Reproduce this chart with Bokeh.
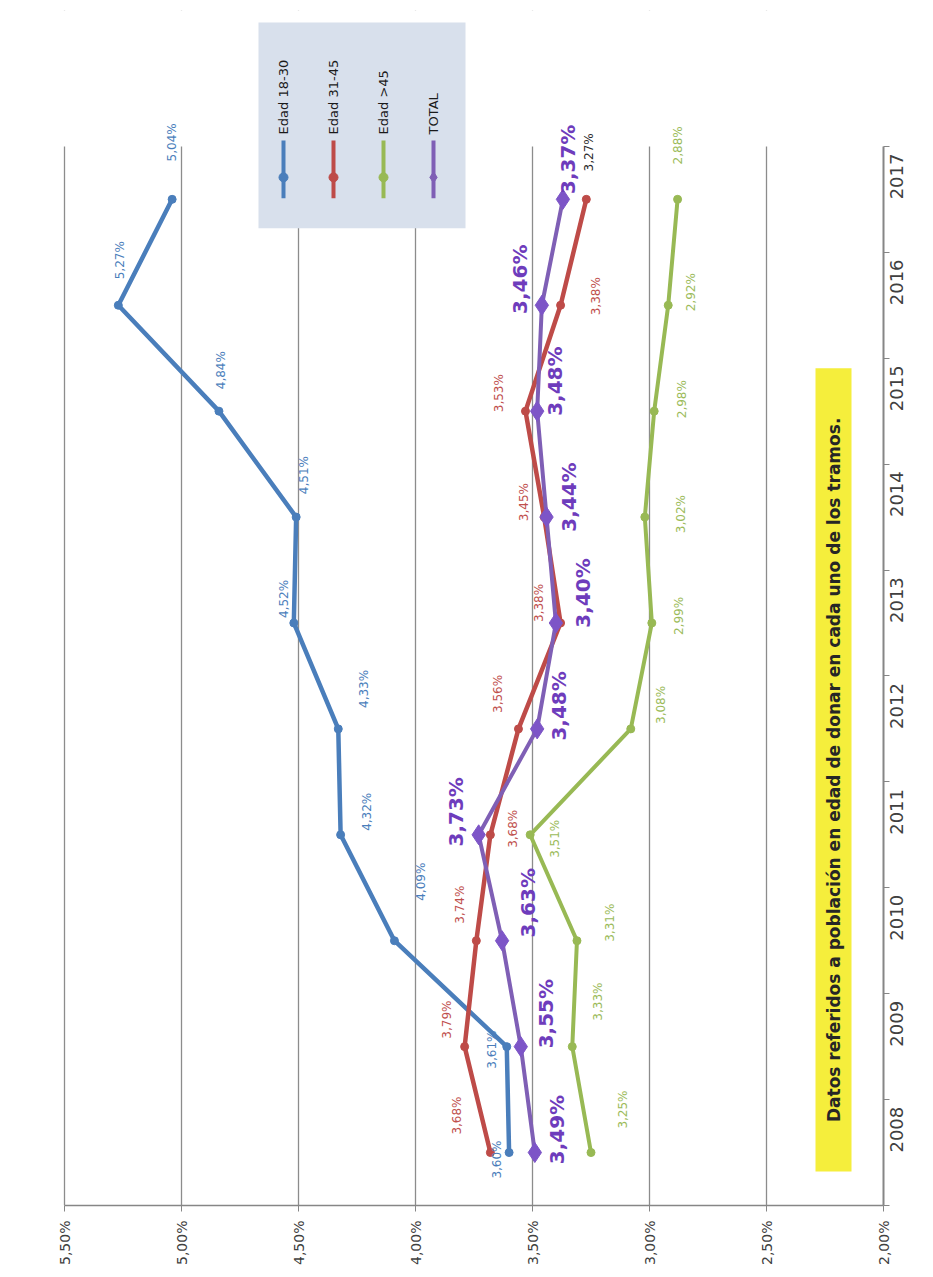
import math
from bokeh.plotting import figure
from bokeh.models import (Range1d, FixedTicker, LinearAxis, CustomJSTickFormatter,
                          ColumnDataSource, BoxAnnotation, Grid)
from bokeh.core.properties import value
from bokeh.embed import file_html
from bokeh.resources import INLINE

# ---------------- data ----------------
years = [2008, 2009, 2010, 2011, 2012, 2013, 2014, 2015, 2016, 2017]
edad_18_30 = [3.60, 3.61, 4.09, 4.32, 4.33, 4.52, 4.51, 4.84, 5.27, 5.04]
edad_31_45 = [3.68, 3.79, 3.74, 3.68, 3.56, 3.38, 3.45, 3.53, 3.38, 3.27]
edad_45 = [3.25, 3.33, 3.31, 3.51, 3.08, 2.99, 3.02, 2.98, 2.92, 2.88]
total = [3.49, 3.55, 3.63, 3.73, 3.48, 3.40, 3.44, 3.48, 3.46, 3.37]
series_names = ["Edad 18-30", "Edad 31-45", "Edad >45", "TOTAL"]
percent_ticks = [2.0, 2.5, 3.0, 3.5, 4.0, 4.5, 5.0, 5.5]
note_text = "Datos referidos a población en edad de donar en cada uno de los tramos."

# ---------------- styles ----------------
FONT = value("DejaVu Sans")
BLUE, RED, GREEN = "#4A7EBB", "#BE4B48", "#98B954"
PURPLE_LINE, PURPLE_MARK, PURPLE_TXT = "#7F5FB5", "#7D55C7", "#6E3CBC"

# label offsets in screen pixels (dx right, dy down)
blue_off = ([-12, -15, 27, 26, 26, -10, 8, 2, 2, 0], [7, 3, -59, -23, -40, -24, -42, -41, -45, -57])
red_off = ([-33, -18, -16, 23, -20, -22, -20, -26, 35, 3], [-37, -27, -36, -6, -35, -20, -15, -18, -9, -47])
green_off = ([32, 26, 33, 25, 30, 27, 36, 28, 23, 0], [-43, -45, -18, 4, -24, -7, -3, -12, -13, -54])
total_off = ([22, 25, 26, -23, 22, 27, 22, 18, -22, 5], [-23, -33, -38, -23, -23, -30, -20, -30, -26, -40])


# pixel -> data helpers for layout-only items (legend, note, cover)
def xd(px):
    return 5.5 - (px - 64) / 234.0


def yd(py):
    return 2008 + (1153 - py) / 106.0


def fmt(v):
    return f"{v:.2f}".replace(".", ",") + "%"


p = figure(width=925, height=1269, output_backend="svg", toolbar_location=None,
           title=None, x_axis_location=None, y_axis_location=None,
           x_range=Range1d(xd(12), 2.0), y_range=Range1d(2007.5, yd(10)),
           min_border_left=12, min_border_top=10, min_border_right=42, min_border_bottom=64)
p.outline_line_color = None
p.background_fill_color = "white"
p.border_fill_color = "white"
p.center = [r for r in p.center if not isinstance(r, Grid)]

# axes
xax = LinearAxis(ticker=FixedTicker(ticks=percent_ticks),
                 formatter=CustomJSTickFormatter(code="return tick.toFixed(2).replace('.', ',') + '%';"),
                 bounds=(2.0, 5.5))
xax.major_label_orientation = math.pi / 2
xax.major_label_text_font = "DejaVu Sans"
xax.major_label_text_font_size = "14px"
xax.major_label_text_color = "#404040"
xax.axis_line_color = "#868686"
xax.axis_line_width = 1.5
xax.major_tick_line_color = "#868686"
xax.major_tick_out = 6
xax.major_tick_in = 0
xax.minor_tick_line_color = None
xax.major_label_standoff = 9
p.add_layout(xax, "below")

yax = LinearAxis(ticker=FixedTicker(ticks=years, minor_ticks=[y - 0.5 for y in years] + [years[-1] + 0.5]),
                 formatter=CustomJSTickFormatter(code="return tick.toFixed(0);"),
                 bounds=(2007.5, 2017.5))
yax.major_label_orientation = math.pi / 2
yax.major_label_text_font = "DejaVu Sans"
yax.major_label_text_font_size = "18px"
yax.major_label_text_color = "#404040"
yax.axis_line_color = "#868686"
yax.axis_line_width = 2
yax.major_tick_line_color = None
yax.minor_tick_line_color = "#868686"
yax.minor_tick_out = 6
yax.minor_tick_in = 0
yax.major_label_standoff = 7
p.add_layout(yax, "right")

grid = Grid(dimension=0, ticker=FixedTicker(ticks=percent_ticks),
            grid_line_color="#8C8C8C", grid_line_width=1.3)
p.add_layout(grid)

# cover the grid above the plot area, legend box, note box
p.add_layout(BoxAnnotation(bottom=2017.5, fill_color="white", fill_alpha=1.0,
                           line_color=None, level="underlay"))
p.add_layout(BoxAnnotation(left=xd(258), right=xd(465), top=yd(22), bottom=yd(228),
                           fill_color="#D8E0EC", fill_alpha=1.0, line_color=None, level="underlay"))
p.add_layout(BoxAnnotation(left=xd(815), right=xd(851), top=yd(368), bottom=yd(1172),
                           fill_color="#F5EE3C", fill_alpha=1.0, line_color=None, level="underlay"))

# series
series = [
    (edad_18_30, BLUE, BLUE, "circle", 8, 4.5, blue_off, BLUE, "12px", "normal"),
    (edad_31_45, RED, RED, "circle", 8, 4.5, red_off, "#C0504D", "12px", "normal"),
    (edad_45, GREEN, GREEN, "circle", 8, 4, green_off, "#9BBB59", "12px", "normal"),
    (total, PURPLE_LINE, PURPLE_MARK, "diamond", 20, 4, total_off, PURPLE_TXT, "20px", "bold"),
]
for vals, lc, mc, mk, ms, lw, off, tc, fs, fst in series:
    p.line(x=vals, y=years, line_color=lc, line_width=lw)
    p.scatter(x=vals, y=years, marker=mk, size=ms, fill_color=mc, line_color=mc)

for vals, lc, mc, mk, ms, lw, off, tc, fs, fst in series:
    colors = [tc] * len(vals)
    if vals is edad_31_45:
        colors[-1] = "#2B2B2B"
    src = ColumnDataSource(dict(x=vals, y=years, t=[fmt(v) for v in vals],
                                dx=off[0], dy=off[1], c=colors))
    p.text(x="x", y="y", text="t", source=src, angle=math.pi / 2,
           x_offset="dx", y_offset="dy", text_align="center", text_baseline="middle",
           text_font=FONT, text_font_size=fs, text_font_style=fst, text_color="c")

# legend (drawn manually, rotated)
leg_cols = [283, 333, 383, 433]
leg_colors = [BLUE, RED, GREEN, PURPLE_LINE]
leg_marks = ["circle", "circle", "circle", "diamond"]
p.segment(x0=[xd(c) for c in leg_cols], y0=[yd(140)] * 4, x1=[xd(c) for c in leg_cols], y1=[yd(198)] * 4,
          line_color=leg_colors, line_width=4)
for c, col, mk in zip(leg_cols, leg_colors, leg_marks):
    p.scatter(x=[xd(c)], y=[yd(177)], marker=mk, size=9 if mk == "circle" else 11,
              fill_color=col, line_color=col)
p.text(x=[xd(c) for c in leg_cols], y=[yd(134)] * 4, text=series_names, angle=math.pi / 2,
       text_align="left", text_baseline="middle", text_font=FONT, text_font_size="13px",
       text_color="#1A1A1A")

# note
p.text(x=[xd(833)], y=[yd(770)], text=[note_text], angle=math.pi / 2,
       text_align="center", text_baseline="middle", text_font=FONT,
       text_font_size="17px", text_font_style="bold", text_color="#262626")

open("out.html", "w").write(file_html(p, INLINE))
